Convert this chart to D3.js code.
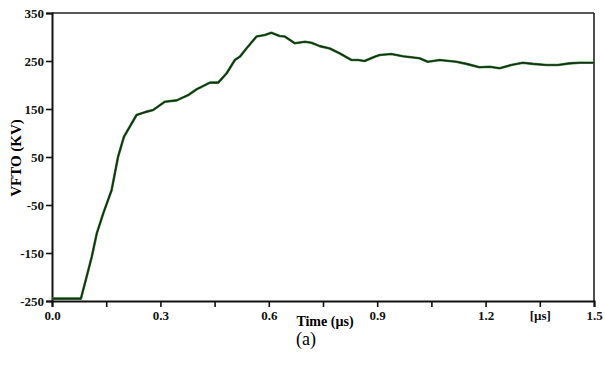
<!DOCTYPE html>
<html>
<head>
<meta charset="utf-8">
<script src="https://cdn.jsdelivr.net/npm/d3@7"></script>
<style>
  body { margin: 0; background: #fff; }
  svg { display: block; }
</style>
</head>
<body>
<div id="chart"></div>
<script>
// time in microseconds
const time = [0, 0.08, 0.096, 0.11, 0.124, 0.142, 0.165, 0.183, 0.199, 0.234, 0.26, 0.28,
  0.312, 0.345, 0.377, 0.4, 0.437, 0.46, 0.483, 0.506, 0.52, 0.538, 0.566, 0.589, 0.607,
  0.63, 0.644, 0.672, 0.7, 0.718, 0.741, 0.769, 0.796, 0.829, 0.847, 0.865, 0.893, 0.907,
  0.939, 0.971, 1.017, 1.04, 1.073, 1.119, 1.147, 1.183, 1.211, 1.239, 1.271, 1.303, 1.331,
  1.368, 1.4, 1.432, 1.46, 1.5];
// VFTO in kV
const vfto = [-245, -245, -199, -158, -109, -67, -19, 51, 92, 137.5, 144, 148,
  165, 168, 179, 191, 205, 205, 224, 252, 259, 276, 301, 304, 309,
  302, 301, 287, 290, 288, 281, 276, 266, 252, 252, 250, 259, 262.5,
  264.6, 260, 255.6, 248.6, 252, 248.6, 244, 237, 238, 235, 241.7, 246.5, 244,
  241.7, 241.7, 245, 246.5, 246.5];

const xTicks = [0, 0.15, 0.3, 0.45, 0.6, 0.75, 0.9, 1.05, 1.2, 1.35, 1.5];
const xTickLabels = ["0.0", "", "0.3", "", "0.6", "", "0.9", "", "1.2", "[µs]", "1.5"];
const yTicks = [-250, -150, -50, 50, 150, 250, 350];

const serif = "'Liberation Serif', 'Times New Roman', serif";

const width = 605, height = 367;
const margin = { top: 13, right: 11, bottom: 66, left: 52 };
const w = width - margin.left - margin.right;
const h = height - margin.top - margin.bottom;

const svg = d3.select("#chart").append("svg")
  .attr("width", width)
  .attr("height", height);

const g = svg.append("g")
  .attr("transform", `translate(${margin.left},${margin.top})`);

const x = d3.scaleLinear().domain([0, 1.5]).range([0, w]);
const y = d3.scaleLinear().domain([-250, 350]).range([h, 0]);

// frame top and right
g.append("line").attr("x1", 0).attr("x2", w).attr("y1", 0).attr("y2", 0)
  .attr("stroke", "#222").attr("stroke-width", 1.6);
g.append("line").attr("x1", w).attr("x2", w).attr("y1", 0).attr("y2", h)
  .attr("stroke", "#222").attr("stroke-width", 1.6);

// axes
g.append("g")
  .attr("class", "axis")
  .attr("transform", `translate(0,${h})`)
  .call(d3.axisBottom(x).tickValues(xTicks).tickSize(6).tickPadding(4)
    .tickFormat((d, i) => xTickLabels[i]));

g.append("g")
  .attr("class", "axis")
  .call(d3.axisLeft(y).tickValues(yTicks).tickSize(6).tickPadding(2)
    .tickFormat(d => String(d)));

g.selectAll(".axis text")
  .style("font-family", serif)
  .style("font-weight", "bold")
  .style("font-size", "13px")
  .style("fill", "#111");
g.selectAll(".axis .domain").attr("stroke", "#111").attr("stroke-width", 2);
g.selectAll(".axis .tick line").attr("stroke", "#111").attr("stroke-width", 1.6);

// the curve: green under black gives the fringed look
const line = d3.line()
  .x((d, i) => x(time[i]))
  .y(d => y(d))
  .curve(d3.curveLinear);

g.append("path")
  .datum(vfto)
  .attr("fill", "none")
  .attr("stroke", "#3a9a3a")
  .attr("stroke-width", 2.6)
  .attr("stroke-linejoin", "round")
  .attr("d", line);

g.append("path")
  .datum(vfto)
  .attr("fill", "none")
  .attr("stroke", "#1b2a1b")
  .attr("stroke-width", 1.6)
  .attr("stroke-linejoin", "round")
  .attr("d", line);

// axis titles
svg.append("text")
  .attr("x", 325)
  .attr("y", 326)
  .attr("text-anchor", "middle")
  .style("font-family", serif)
  .style("font-weight", "bold")
  .style("font-size", "14px")
  .text("Time (µs)");

svg.append("text")
  .attr("transform", "translate(21,158) rotate(-90)")
  .attr("text-anchor", "middle")
  .style("font-family", serif)
  .style("font-weight", "bold")
  .style("font-size", "15px")
  .text("VFTO (KV)");

svg.append("text")
  .attr("x", 306)
  .attr("y", 345)
  .attr("text-anchor", "middle")
  .style("font-family", serif)
  .style("font-size", "18px")
  .text("(a)");
</script>
</body>
</html>
